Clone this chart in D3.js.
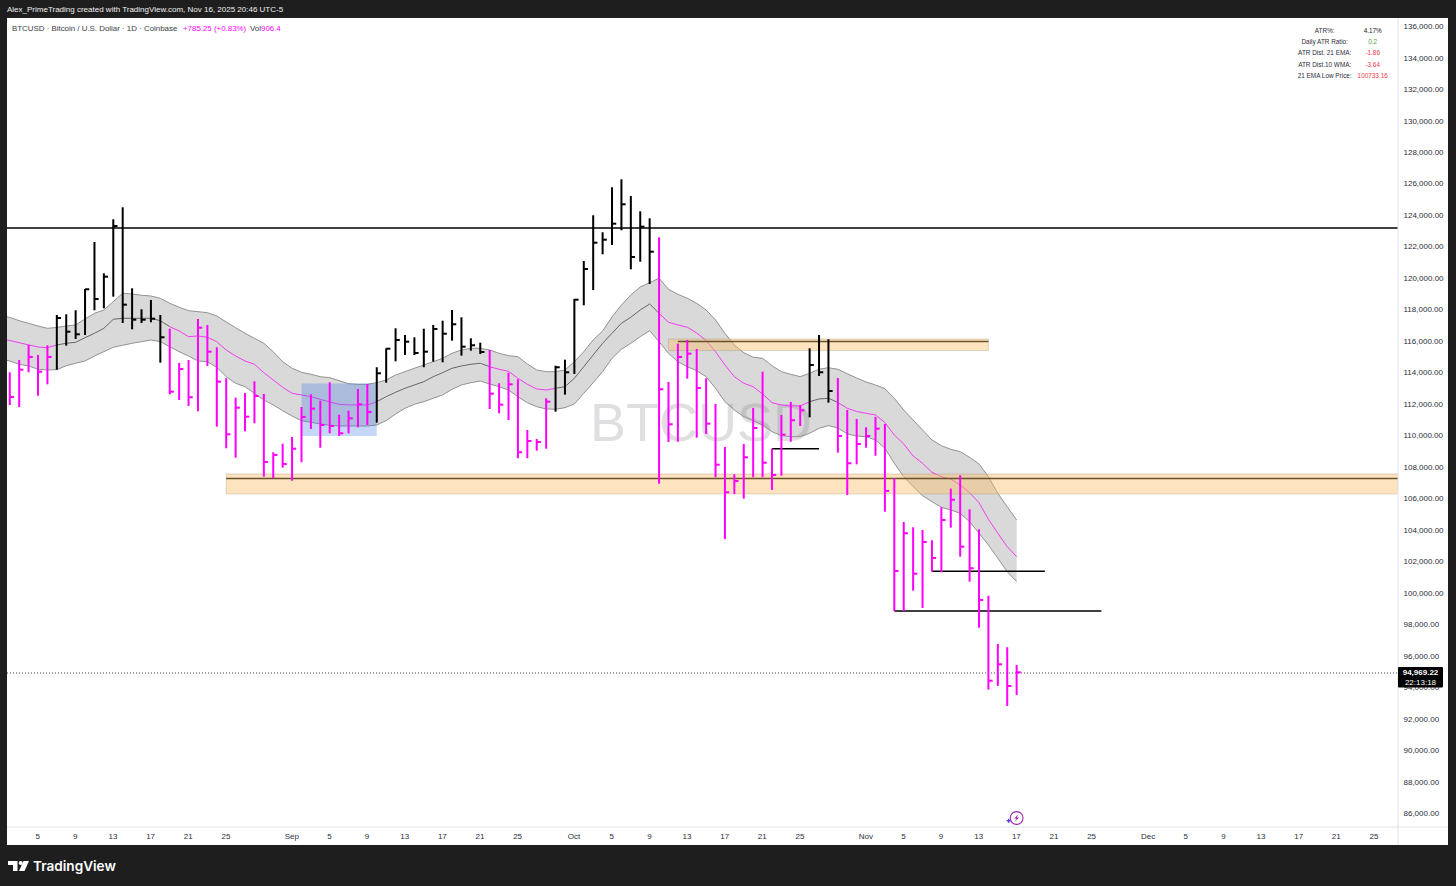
<!DOCTYPE html>
<html>
<head>
<meta charset="utf-8">
<script src="https://cdn.jsdelivr.net/npm/d3@7"></script>
<style>
html,body{margin:0;padding:0;background:#1e1e1e;overflow:hidden}
svg{display:block}
text{font-family:"Liberation Sans",Arial,sans-serif}
</style>
</head>
<body>
<svg id="c" width="1456" height="886"></svg>
<script>
const firstBarDate = "2025-08-02";
const barHigh = [
114032,114813,115766,115131,115747,117672,117717,117971,119324,122310,
120321,123752,124514,119368,118034,118625,117672,116802,114623,114813,
117418,117037,115620,113651,112418,112717,113460,112653,108949,109496,
109921,111827,112634,112228,113396,111338,111592,112971,113288,114350,
115556,116827,116401,116255,116802,117037,117310,117990,117526,116192,
115912,115448,113333,114006,113587,110366,109794,112380,114451,114832,
118689,121103,124006,122926,125785,126293,125232,124260,123815,122608,
113416,115849,116084,115512,113651,112018,109286,107552,109477,111764,
114070,109178,111319,112145,111954,115556,116401,116128,113670,111637,
111065,110538,111192,110747,107298,104521,104185,104013,103359,105455,
106637,107488,105328,104058,99839,96771,96561,95437];
const barLow = [
111954,111827,114032,112545,113269,114197,115722,116147,116401,117971,
118098,118835,117164,116763,117164,117208,114642,112634,112272,111891,
111554,114432,110576,109204,108606,110284,110792,107399,107298,107971,
107145,108314,110430,109242,110156,109985,110156,110538,110684,110830,
113371,114731,115131,115131,114350,114705,114667,116040,115087,115404,
115194,111700,111427,111001,108568,108568,109052,109178,111529,112609,
113924,118288,119260,121528,122119,123053,120575,121058,119641,106954,
109604,109623,113626,109877,110112,107361,103441,106300,106002,107361,
107361,106554,107463,109623,110620,111173,113797,112101,108924,106237,
108187,109242,108733,105176,98867,98867,100156,99058,101364,101326,
104159,102317,100729,97806,93870,94102,92832,93531];
const barClose = [
112463,114197,115004,114070,115004,117481,116611,116446,119305,118689,
120105,123326,118326,117374,117374,117437,116255,112799,114241,112444,
116865,115341,113435,110093,111783,111211,112526,108333,108778,108206,
109178,111192,111719,110684,110620,110156,111109,111999,111510,113968,
115530,116084,115976,115258,115341,116783,116484,117081,115658,115747,
115321,112672,111974,113269,108949,109667,109604,112164,114350,114032,
118644,120594,122265,122456,123472,124705,121357,123282,121693,112952,
110728,115004,115214,113034,110767,108162,106408,107126,108631,110493,
108288,107507,110067,110982,111618,114496,114032,112844,109985,108250,
109477,109985,110449,106491,101408,103803,101237,103251,102234,104648,
105938,102953,101580,99566,94439,95481,94102,94969];
// first bar index of each run, and whether the run is above the band (true) or below it (false)
const runStarts = [0,5,17,39,51,58,69,85,88];
const runAbove  = [false,true,false,true,false,true,false,true,false];

const firstBandDate = "2025-08-01";
const bandUpper = [
117672,117513,117310,117145,116973,116827,116878,116973,117037,117418,
117780,117990,118517,119051,119006,118924,118879,118733,118415,118161,
117945,117882,117818,117609,117227,116865,116509,116192,115874,115341,
114705,114286,114032,113905,113752,113689,113498,113308,113269,113269,
113371,113543,113860,114070,114286,114496,114705,114921,115239,115448,
115556,115556,115448,115239,115087,115023,114559,114178,114070,114070,
114178,114705,115341,116084,116656,117545,118307,118943,119451,119724,
120004,119305,118987,118733,118415,117990,117354,116509,115766,115277,
114985,114921,114451,114070,113905,113752,113968,114222,114324,114222,
113943,113670,113416,113225,112990,112380,111637,111001,110366,109731,
109369,109140,108987,108632,108206,107399,106345,105493,104648];
const bandMid = [
116116,116052,115912,115766,115639,115595,115766,115874,115937,116230,
116509,116827,117399,117462,117462,117462,117462,117310,116929,116656,
116294,116338,116255,115976,115448,115067,114750,114540,114006,113543,
113079,112698,112590,112482,112316,112145,111999,111954,111954,111954,
112164,112482,112761,113015,113225,113435,113752,114006,114286,114432,
114540,114604,114388,114222,114095,113651,113269,112971,112907,113015,
113117,113651,114388,115131,115874,116509,117145,117526,117990,118371,
117780,117208,117037,116891,116529,116052,115341,114496,113752,113333,
113117,112653,112101,111954,111891,111891,112164,112336,112380,112113,
111745,111541,111427,111319,110843,110048,109477,108714,108250,107679,
107399,107253,106872,106383,105748,104693,103803,102953,102317];
const bandLower = [
114877,114750,114540,114432,114222,114178,114197,114451,114604,114750,
115067,115341,115620,115747,115874,115976,116084,115976,115658,115341,
115067,114750,114705,114350,113752,113333,113117,112698,112272,111954,
111592,111256,110957,110855,110747,110665,110620,110620,110620,110620,
110684,110957,111383,111745,111999,112164,112380,112590,112952,113225,
113371,113479,113288,113117,112907,112482,112101,111846,111700,111681,
111783,112018,112698,113371,114070,114921,115493,115874,116294,116675,
115976,115239,114705,114388,114134,113752,113015,112164,111637,111211,
110957,110684,110259,110004,109941,109941,110156,110474,110640,110493,
110112,109985,109941,109731,109204,108250,107399,106764,106192,105811,
105455,105284,105073,104541,103803,103060,102215,101364,100728];

const priceTicks = d3.range(86000, 136001, 2000);
const timeTickDates = ["2025-08-05","2025-08-09","2025-08-13","2025-08-17","2025-08-21","2025-08-25",
"2025-09-01","2025-09-05","2025-09-09","2025-09-13","2025-09-17","2025-09-21","2025-09-25",
"2025-10-01","2025-10-05","2025-10-09","2025-10-13","2025-10-17","2025-10-21","2025-10-25",
"2025-11-01","2025-11-05","2025-11-09","2025-11-13","2025-11-17","2025-11-21","2025-11-25",
"2025-12-01","2025-12-05","2025-12-09","2025-12-13","2025-12-17","2025-12-21","2025-12-25"];

// horizontal drawings: price, from, to (null = chart edge)
const longLines = [
  {p:123199, from:null, to:null},
  {p:107285, from:"2025-08-25", to:null},
  {p:115990, from:"2025-10-12", to:"2025-11-14"},
  {p:109178, from:"2025-10-22", to:"2025-10-27"},
  {p:101389, from:"2025-11-08", to:"2025-11-20"},
  {p:98867,  from:"2025-11-04", to:"2025-11-26"}
];
const zones = [
  {top:107571, bottom:106300, from:"2025-08-25", to:null, kind:"orange"},
  {top:116147, bottom:115410, from:"2025-10-11", to:"2025-11-14", kind:"orange"},
  {top:113320, bottom:109985, from:"2025-09-02", to:"2025-09-10", kind:"blue"}
];
const lastPrice = 94969.22;
const countdown = "22:13:18";
const atrRows = [
  {label:"ATR%:", value:"4.17%", color:"#131722"},
  {label:"Daily ATR Ratio:", value:"0.2", color:"#43a047"},
  {label:"ATR Dist. 21 EMA:", value:"-1.86", color:"#f23645"},
  {label:"ATR Dist.10 WMA:", value:"-3.64", color:"#f23645"},
  {label:"21 EMA Low Price:", value:"100733.16", color:"#f23645"}
];

const PINK = "#ff00ff";
const L = 7, R = 1398, T = 18, B = 827, OUT_R = 1448, OUT_B = 845;
const day = 864e5;
const D = s => new Date(s + "T00:00:00Z");
const svg = d3.select("#c");

const x = d3.scaleUtc().domain([D("2025-08-05"), D("2025-11-17")]).range([38, 1016.64]);
const y = d3.scaleLinear().domain([86000, 136000]).range([813.5, 26.5]);

const barDate = i => new Date(+D(firstBarDate) + i * day);
const bandDate = i => new Date(+D(firstBandDate) + i * day);
const isAbove = i => runAbove[d3.bisectRight(runStarts, i) - 1];
const bars = barHigh.map((h, i) => ({h, l: barLow[i], c: barClose[i], date: barDate(i), above: isAbove(i)}));
const band = bandMid.map((m, i) => ({u: bandUpper[i], m, l: bandLower[i], date: bandDate(i)}));

svg.append("rect").attr("x",L).attr("y",T).attr("width",OUT_R-L).attr("height",OUT_B-T).attr("fill","#fff");
svg.append("defs").append("clipPath").attr("id","plot").append("rect")
  .attr("x",L).attr("y",T).attr("width",R-L).attr("height",B-T);
const plot = svg.append("g").attr("clip-path","url(#plot)");

// watermark
plot.append("text").attr("x",701).attr("y",441).attr("text-anchor","middle")
  .attr("font-size",54).attr("fill","#dfdfe1").text("BTCUSD");

// band
plot.append("path").datum(band)
  .attr("d", d3.area().x(d=>x(d.date)).y0(d=>y(d.l)).y1(d=>y(d.u)))
  .attr("fill","rgba(128,128,128,0.3)");
for (const k of ["u","l"]) {
  plot.append("path").datum(band)
    .attr("d", d3.line().x(d=>x(d.date)).y(d=>y(d[k])))
    .attr("fill","none").attr("stroke","#929292").attr("stroke-width",1);
}
// mid line coloured by regime
const midLine = d3.line().x(d=>x(d.date)).y(d=>y(d.m));
runStarts.forEach((s, r) => {
  const from = r === 0 ? 0 : s + 1;            // band index = bar index + 1
  const to = (r < runStarts.length - 1 ? runStarts[r + 1] : bars.length) + 1;
  plot.append("path").datum(band.slice(from, to + 1))
    .attr("d", midLine).attr("fill","none")
    .attr("stroke", runAbove[r] ? "#666" : "#f33cf3").attr("stroke-width",1);
});

// horizontal lines
plot.selectAll("line.h").data(longLines).join("line")
  .attr("x1", d=>d.from ? x(D(d.from)) : L).attr("x2", d=>d.to ? x(D(d.to)) : R)
  .attr("y1", d=>y(d.p)).attr("y2", d=>y(d.p))
  .attr("stroke","#000").attr("stroke-width",1.6);
plot.append("line").attr("x1",L).attr("x2",R).attr("y1",y(lastPrice)+0.7).attr("y2",y(lastPrice)+0.7)
  .attr("stroke","#444").attr("stroke-width",1).attr("stroke-dasharray","1 2");

// zones
plot.selectAll("rect.z").data(zones).join("rect")
  .attr("x", d=>x(D(d.from)))
  .attr("width", d=>(d.to ? x(D(d.to)) : R) - x(D(d.from)))
  .attr("y", d=>y(d.top)).attr("height", d=>y(d.bottom)-y(d.top))
  .attr("fill", d=>d.kind==="blue" ? "rgba(66,119,230,0.3)" : "rgba(250,190,100,0.42)")
  .attr("stroke", d=>d.kind==="blue" ? "none" : "rgba(150,140,120,0.3)").attr("stroke-width",1);

// bars
const gb = plot.append("g");
gb.selectAll("rect.stem").data(bars).join("rect")
  .attr("x", d=>x(d.date)-1).attr("width",2)
  .attr("y", d=>y(d.h)).attr("height", d=>y(d.l)-y(d.h))
  .attr("fill", d=>d.above ? "#000" : PINK);
gb.selectAll("rect.tick").data(bars).join("rect")
  .attr("x", d=>x(d.date)).attr("width",4.2)
  .attr("y", d=>y(d.c)-1).attr("height",2)
  .attr("fill", d=>d.above ? "#000" : PINK);

// frames
svg.append("line").attr("x1",R).attr("x2",R).attr("y1",T).attr("y2",OUT_B).attr("stroke","#e0e3eb");
svg.append("line").attr("x1",L).attr("x2",OUT_R).attr("y1",B).attr("y2",B).attr("stroke","#e0e3eb");

// axes
const yAxis = svg.append("g").attr("transform",`translate(${R},-0.5)`)
  .call(d3.axisRight(y).tickValues(priceTicks).tickFormat(d3.format(",.2f")).tickSize(0).tickPadding(5.5));
yAxis.select(".domain").remove();
yAxis.selectAll("text").attr("font-size",8).attr("fill","#2a2e39").attr("font-family",'"Liberation Sans",Arial,sans-serif');

const monthFmt = d3.utcFormat("%b");
const xAxis = svg.append("g").attr("transform",`translate(-0.8,${B})`)
  .call(d3.axisBottom(x).tickValues(timeTickDates.map(D))
    .tickFormat(d=>d.getUTCDate()===1 ? monthFmt(d) : String(d.getUTCDate())).tickSize(0).tickPadding(6));
xAxis.select(".domain").remove();
xAxis.selectAll("text").attr("font-size",8).attr("fill","#2a2e39").attr("font-family",'"Liberation Sans",Arial,sans-serif');

// last price tag
const tagY = y(lastPrice);
svg.append("rect").attr("x",R).attr("y",tagY-5.2).attr("width",45).attr("height",20.5).attr("fill","#000").attr("rx",1);
svg.append("text").attr("x",R+22.5).attr("y",tagY+3).attr("text-anchor","middle").attr("font-size",8)
  .attr("font-weight",700).attr("fill","#fff").text(d3.format(",.2f")(lastPrice));
svg.append("text").attr("x",R+22.5).attr("y",tagY+12.6).attr("text-anchor","middle").attr("font-size",8)
  .attr("fill","#fff").text(countdown);

// header
svg.append("text").attr("x",7).attr("y",12).attr("font-size",8).attr("fill","#f0f0f0")
  .text("Alex_PrimeTrading created with TradingView.com, Nov 16, 2025 20:46 UTC-5");
const leg = svg.append("text").attr("x",12).attr("y",31).attr("font-size",7.9).attr("fill","#3a3e49");
leg.append("tspan").text("BTCUSD · Bitcoin / U.S. Dollar · 1D · Coinbase");
leg.append("tspan").attr("x",183).attr("fill",PINK).text("+785.25 (+0.83%)");
leg.append("tspan").attr("x",250).text("Vol");
leg.append("tspan").attr("x",261).attr("fill",PINK).text("906.4");

// ATR table
atrRows.forEach((r,i)=>{
  const ty = 32.5 + i*11.4;
  svg.append("text").attr("x",1324.7).attr("y",ty).attr("text-anchor","middle").attr("font-size",6.4).attr("fill","#2a2e39").text(r.label);
  svg.append("text").attr("x",1372.7).attr("y",ty).attr("text-anchor","middle").attr("font-size",6.4).attr("fill",r.color).text(r.value);
});

// flash icon
const ic = svg.append("g").attr("transform",`translate(${x(D("2025-11-17"))},818)`);
ic.append("circle").attr("r",6.4).attr("fill","#fff").attr("stroke","#9c27b0").attr("stroke-width",1.1);
ic.append("path").attr("d","M1.8 -3.6 L-2.4 0.6 L-0.2 0.6 L-1.8 3.6 L2.4 -0.6 L0.2 -0.6 Z").attr("fill","#9c27b0");
ic.append("path").attr("d","M-10 2.7 h4 M-8 0.7 v4").attr("stroke","#5b3fd6").attr("stroke-width",1.4);

// logo
const lg = svg.append("g").attr("fill","#fff");
lg.append("path").attr("d","M8 861 H17.5 V871 H13 V865 H8 Z");
lg.append("circle").attr("cx",20.7).attr("cy",863).attr("r",2);
lg.append("path").attr("d","M23.5 861 H29 L24.5 871 H19 Z");
svg.append("text").attr("x",33).attr("y",871).attr("font-size",13.6).attr("font-weight",600)
  .attr("fill","#fff").style("font-family","Inter,Roboto,sans-serif").text("TradingView");
</script>
</body>
</html>
